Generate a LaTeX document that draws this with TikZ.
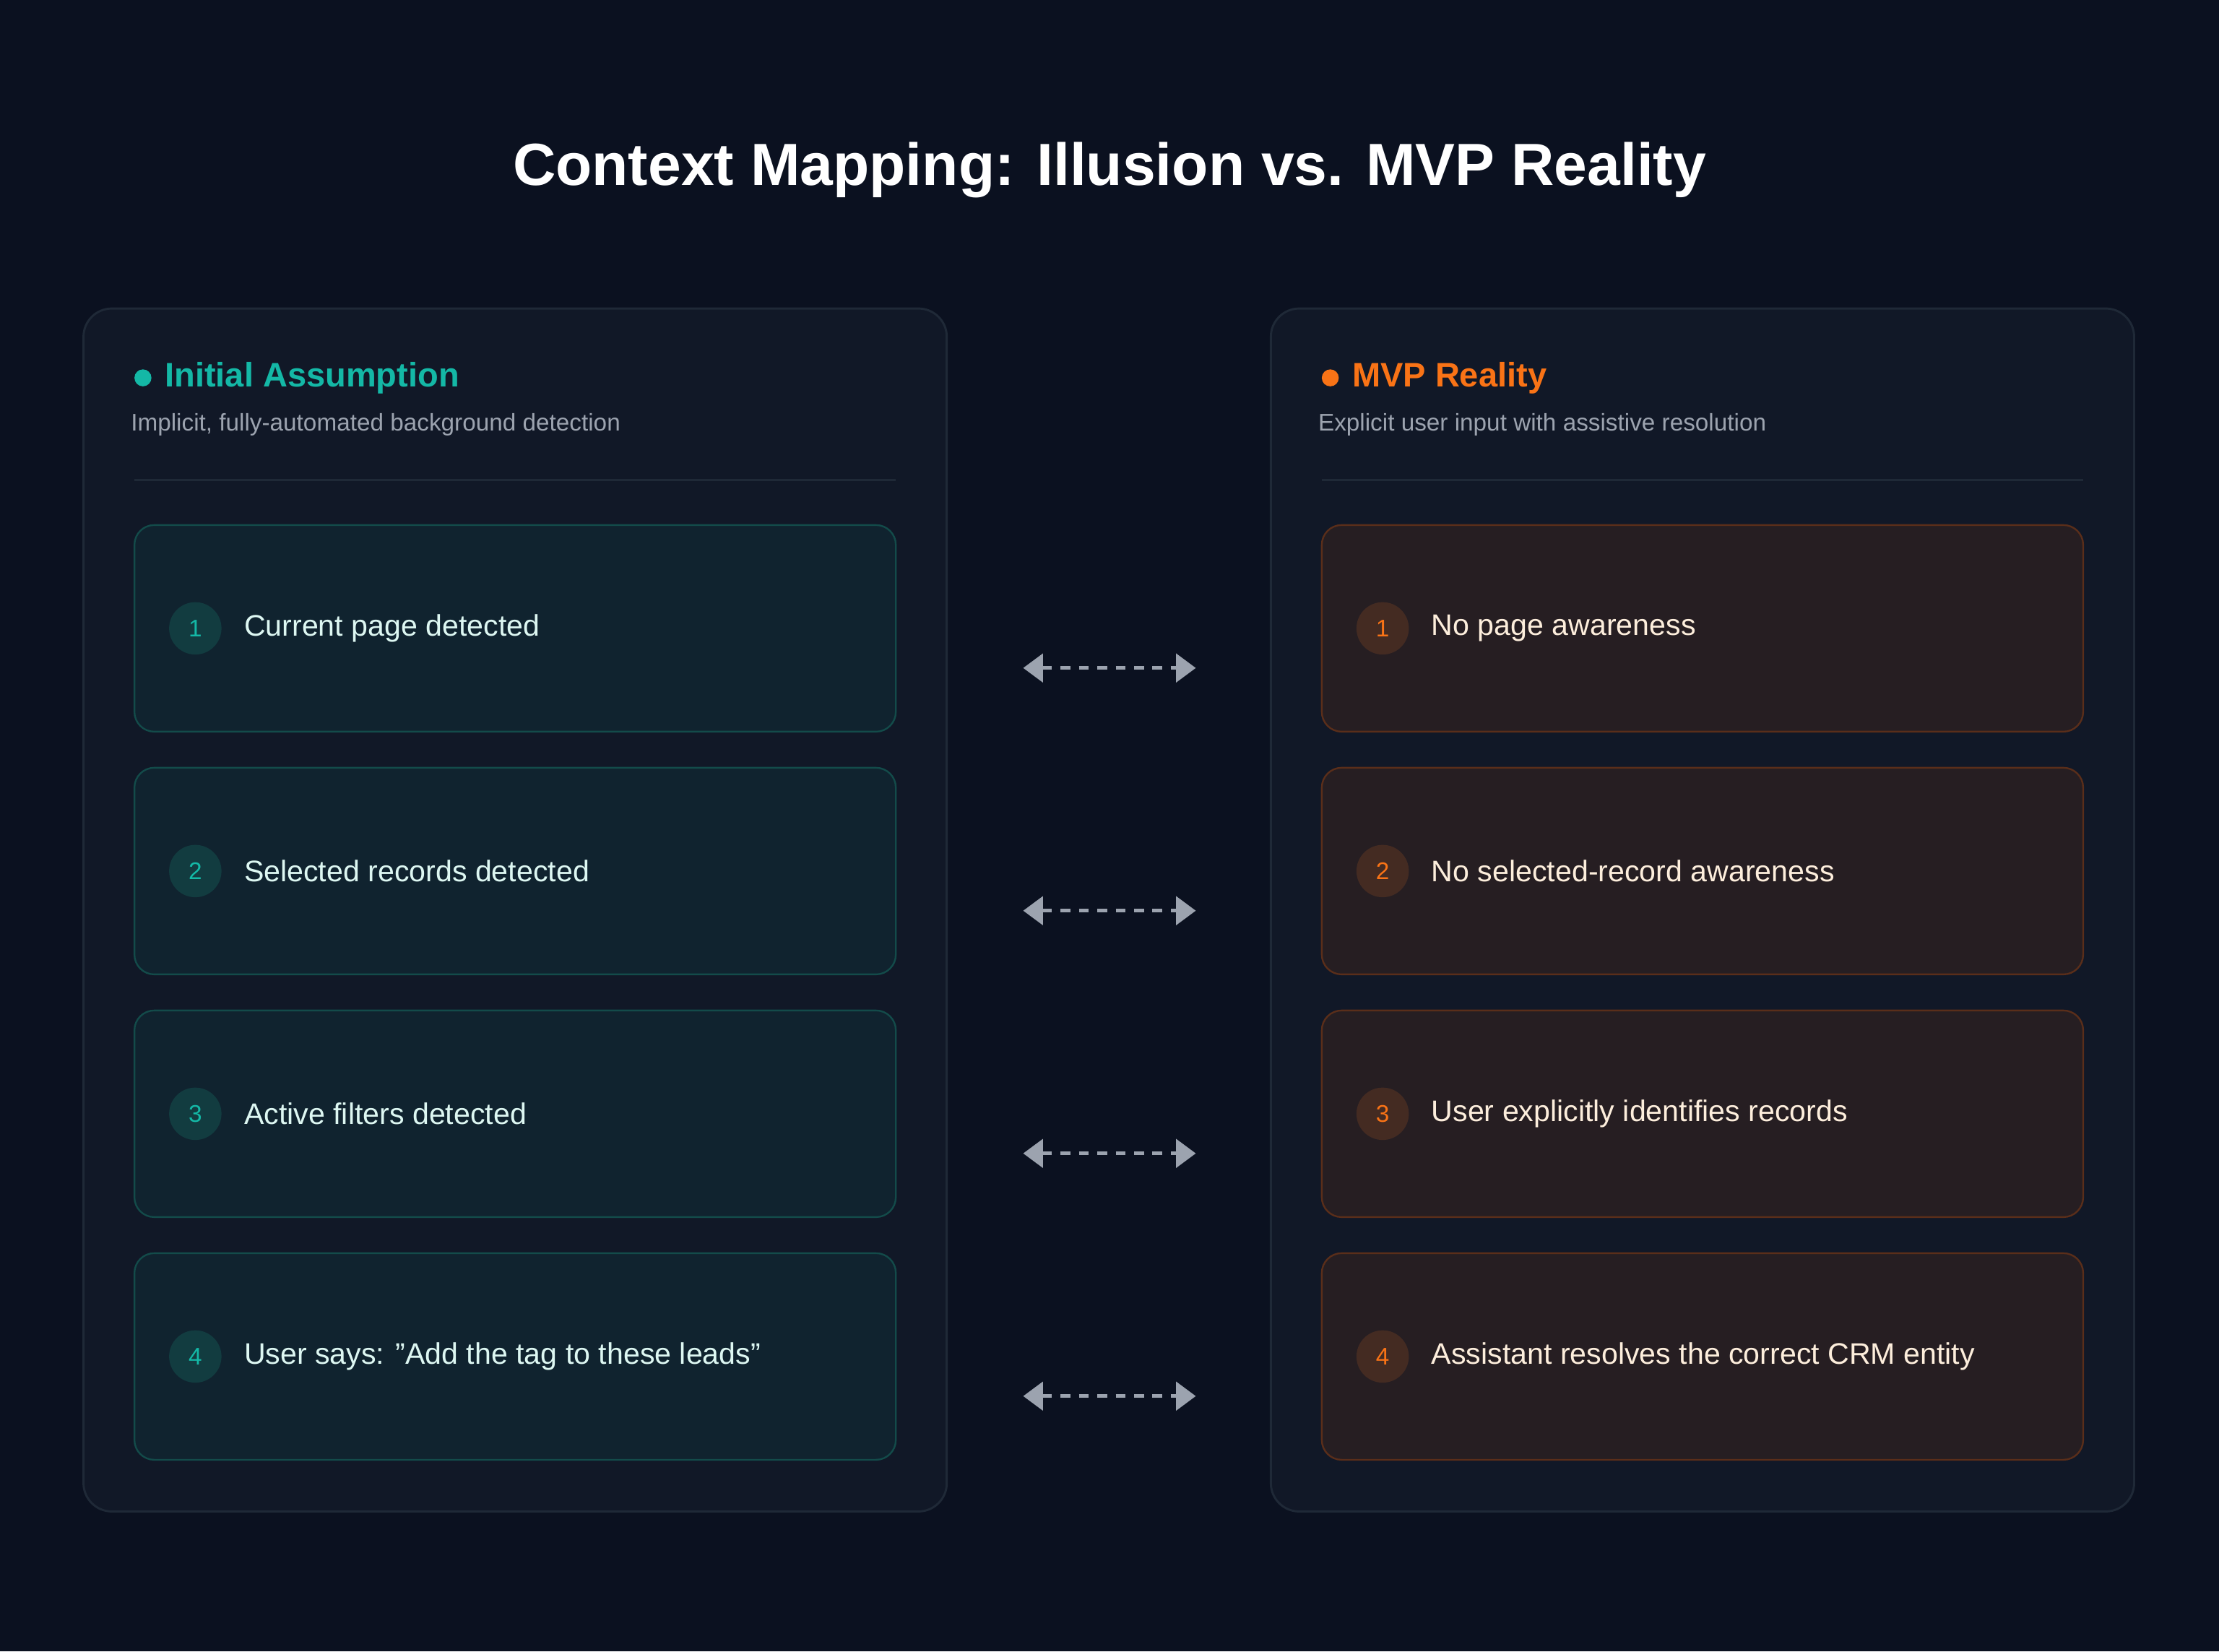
\documentclass[tikz,border=0pt]{standalone}
\usepackage{fontspec}
\setmainfont{Liberation Sans}
\usetikzlibrary{arrows.meta,positioning}
\definecolor{bgdark}{HTML}{0B1120}
\definecolor{panelfill}{HTML}{111827}
\definecolor{panelline}{HTML}{1F2937}
\definecolor{teal}{HTML}{14B8A6}
\definecolor{tealfill}{HTML}{10232F}
\definecolor{tealline}{HTML}{134B4A}
\definecolor{tealdot}{HTML}{123C40}
\definecolor{tealtext}{HTML}{DDF7F2}
\definecolor{orng}{HTML}{F97316}
\definecolor{orngfill}{HTML}{261E22}
\definecolor{orngline}{HTML}{5A2E1A}
\definecolor{orngdot}{HTML}{442B22}
\definecolor{orngtext}{HTML}{FDEEDC}
\definecolor{subgray}{HTML}{9CA3AF}
\tikzset{
    panel/.style={
           rectangle,
           rounded corners=20pt,
           draw=panelline, line width=1.5pt,
           fill=panelfill,
           minimum width=610pt, minimum height=850pt,
           },
    card/.style={
           rectangle,
           rounded corners=14pt,
           line width=1.2pt,
           minimum width=538pt, minimum height=146pt,
           },
    num/.style={circle, minimum size=37pt, inner sep=0pt, font=\fontsize{17}{17}\selectfont},
    label/.style={anchor=west, font=\fontsize{21}{24}\selectfont},
    link/.style={{Triangle[length=14pt,width=20pt]}-{Triangle[length=14pt,width=20pt]},
           draw=subgray, line width=2.6pt, dash pattern=on 7pt off 6pt},
}

\begin{document}
\begin{tikzpicture}[x=1pt, y=-1pt]
\useasboundingbox[fill=bgdark] (0,0) rectangle (1568,1167);
\node[text=white, font=\bfseries\fontsize{42}{46}\selectfont] (title) at (784,120) {Context Mapping: Illusion vs. MVP Reality};
% panels
\node[panel] (lpanel) at (364,643) {};
\node[panel] (rpanel) at (1203,643) {};
% headers
\fill[teal] (101,267) circle (6pt);
\node[anchor=west, text=teal, font=\bfseries\fontsize{24}{26}\selectfont] (lhead) at (113,267) {Initial Assumption};
\node[anchor=west, text=subgray, font=\fontsize{17}{19}\selectfont] (lsub) at (89,300) {Implicit, fully-automated background detection};
\fill[orng] (940,267) circle (6pt);
\node[anchor=west, text=orng, font=\bfseries\fontsize{24}{26}\selectfont] (rhead) at (952,267) {MVP Reality};
\node[anchor=west, text=subgray, font=\fontsize{17}{19}\selectfont] (rsub) at (928,300) {Explicit user input with assistive resolution};
\draw[panelline, line width=1.5pt] (95,339) -- (633,339);
\draw[panelline, line width=1.5pt] (934,339) -- (1472,339);
% cards
\foreach \i/\ltext/\rtext [evaluate=\i as \y using 444+171.5*(\i-1)] in
    {1/Current page detected/No page awareness,
     2/Selected records detected/No selected-record awareness,
     3/Active filters detected/User explicitly identifies records,
     4/{User says: "Add the tag to these leads"}/Assistant resolves the correct CRM entity}{
  \node[card, fill=tealfill, draw=tealline] (l\i) at (364,\y) {};
  \node[num, fill=tealdot, text=teal] (ln\i) at (138,\y) {\i};
  \node[label, text=tealtext] (lt\i) at (169,\y) {\ltext};
  \node[card, fill=orngfill, draw=orngline] (r\i) at (1203,\y) {};
  \node[num, fill=orngdot, text=orng] (rn\i) at (977,\y) {\i};
  \node[label, text=orngtext] (rt\i) at (1008,\y) {\rtext};
  \coordinate (la\i) at (723,\y+28);
  \coordinate (ra\i) at (845,\y+28);
  \draw[link] (la\i) -- (ra\i);
}
\end{tikzpicture}
\end{document}
